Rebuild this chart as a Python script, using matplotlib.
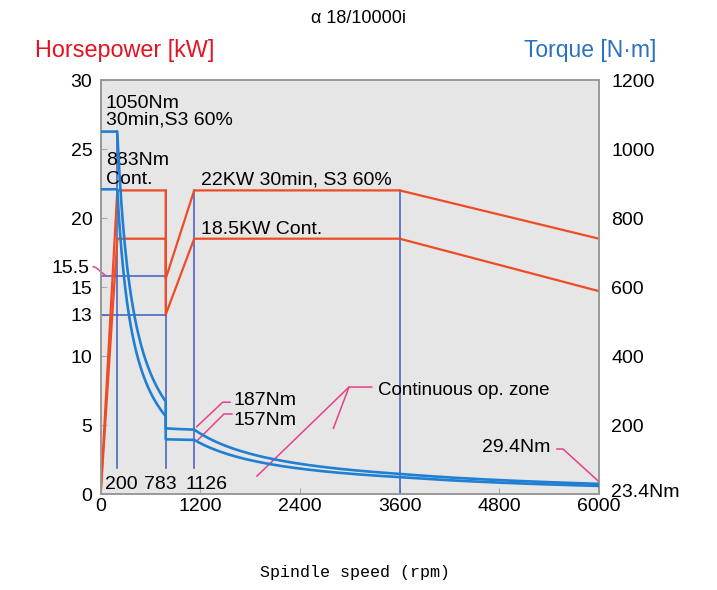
import numpy as np
import matplotlib
matplotlib.use("Agg")
import matplotlib.pyplot as plt

plt.rcParams['font.family'] = ['Liberation Sans', 'DejaVu Sans']

# power curves (kW) read at breakpoints (rpm)
rpm_pts = [0, 200, 783, 783, 1126, 3600, 6000]
kw_s3 = [0, 22, 22, 15.6, 22, 22, 18.5]
kw_cont = [0, 18.5, 18.5, 13, 18.5, 18.5, 14.7]

# reference speeds marked on the chart
mark_rpm = [200, 783, 1126, 3600]
mark_top_kw = [26.3, 22, 22, 22]
mark_bottom_kw = [1.85, 1.85, 1.85, 0]
level_kw = [15.8, 13]

x_ticks = [0, 1200, 2400, 3600, 4800, 6000]
y_ticks = [0, 5, 10, 13, 15, 20, 25, 30]
torque_ticks = [200, 400, 600, 800, 1000, 1200]

RED = '#ee4b26'
BLUE = '#1f7fd2'
NAVY = '#3b5cc4'
PINK = '#e8408a'


def torque_curve(rpm, kw):
    """Turn the piecewise power curve into torque (N·m) vs speed."""
    xs, ts = [], []
    for i in range(len(rpm) - 1):
        n0, n1, p0, p1 = rpm[i], rpm[i + 1], kw[i], kw[i + 1]
        if n0 == n1:
            continue
        n = np.linspace(n0, n1, 80)
        p = np.interp(n, [n0, n1], [p0, p1])
        with np.errstate(divide='ignore', invalid='ignore'):
            t = p * 60000 / (2 * np.pi * n)
        if n0 == 0:
            t[0] = t[1]
        xs.append(n)
        ts.append(t)
    return np.concatenate(xs), np.concatenate(ts)


fig = plt.figure(figsize=(7.17, 5.90), dpi=100)
ax = fig.add_axes([0.1404, 0.1627, 0.695, 0.7017])
ax.set_facecolor('#e6e6e6')
ax2 = ax.twinx()

ax.set_xlim(0, 6000)
ax.set_ylim(0, 30)
ax2.set_ylim(0, 1200)

# reference lines
for r, lo, hi in zip(mark_rpm, mark_bottom_kw, mark_top_kw):
    ax.plot([r, r], [lo, hi], color=NAVY, lw=1.1, zorder=2)
for lv in level_kw:
    ax.plot([0, 783], [lv, lv], color=NAVY, lw=1.1, zorder=2)

# power
ax.plot(rpm_pts, kw_s3, color=RED, lw=1.6, zorder=3)
ax.plot(rpm_pts, kw_cont, color=RED, lw=1.6, zorder=3)

# torque
for kw in (kw_s3, kw_cont):
    n, t = torque_curve(rpm_pts, kw)
    ax2.plot(n, t, color=BLUE, lw=1.9, zorder=3)

fs = 14
ax.text(60, 27.97, '1050Nm', fontsize=fs, va='baseline')
ax.text(60, 26.74, '30min,S3 60%', fontsize=fs, va='baseline')
ax.text(60, 23.84, '883Nm', fontsize=fs, va='baseline')
ax.text(60, 22.46, 'Cont.', fontsize=fs, va='baseline')
ax.text(1205, 22.46, '22KW 30min, S3 60%', fontsize=fs, va='baseline')
ax.text(1205, 18.84, '18.5KW Cont.', fontsize=fs, va='baseline')
ax.text(1595, 6.45, '187Nm', fontsize=fs, va='baseline')
ax.text(1595, 5.0, '157Nm', fontsize=fs, va='baseline')
ax.text(3340, 7.17, 'Continuous op. zone', fontsize=13.5, va='baseline')
ax.text(4590, 3.04, '29.4Nm', fontsize=fs, va='baseline')
ax.text(6150, -0.22, '23.4Nm', fontsize=fs, va='baseline', clip_on=False)
ax.text(-130, 16.04, '15.5', fontsize=fs, va='baseline', ha='right', clip_on=False)
ax.text(55, 0.36, '200', fontsize=fs, va='baseline')
ax.text(520, 0.36, '783', fontsize=fs, va='baseline')
ax.text(1025, 0.36, '1126', fontsize=fs, va='baseline')

# pink leader lines
leaders = [
    ([-89, -57, 64], [16.47, 16.41, 15.8]),
    ([1157, 1469, 1557], [4.88, 6.65, 6.65]),
    ([1169, 1485, 1581], [3.91, 5.80, 5.80]),
    ([3263, 2990, 1882], [7.75, 7.75, 1.30]),
    ([2990, 2802], [7.75, 4.76]),
    ([5494, 5567, 6000], [3.26, 3.26, 0.89]),
]
for xs, ys in leaders:
    ax.plot(xs, ys, color=PINK, lw=1.1, clip_on=False, zorder=4)

ax.set_xticks(x_ticks)
ax.set_yticks(y_ticks)
ax2.set_yticks(torque_ticks)
ax.tick_params(direction='in', length=4, color='#aaaaaa', labelsize=fs, pad=6)
ax.tick_params(axis='x', pad=3)
ax2.tick_params(length=0, labelsize=fs, pad=9)
for a in (ax, ax2):
    for s in a.spines.values():
        s.set_color('#999999')
        s.set_linewidth(1.2)

fig.text(0.5, 0.969, 'α 18/10000i', fontsize=13, ha='center', va='center')
fig.text(0.049, 0.915, 'Horsepower [kW]', fontsize=16.8, color='#e3131f', ha='left', va='center')
fig.text(0.916, 0.915, 'Torque [N·m]', fontsize=16.5, color='#2a72c0', ha='right', va='center')
fig.text(0.495, 0.0305, 'Spindle speed (rpm)', fontsize=12, family='Liberation Mono',
         ha='center', va='center')

fig.savefig('out.png', dpi=100)
